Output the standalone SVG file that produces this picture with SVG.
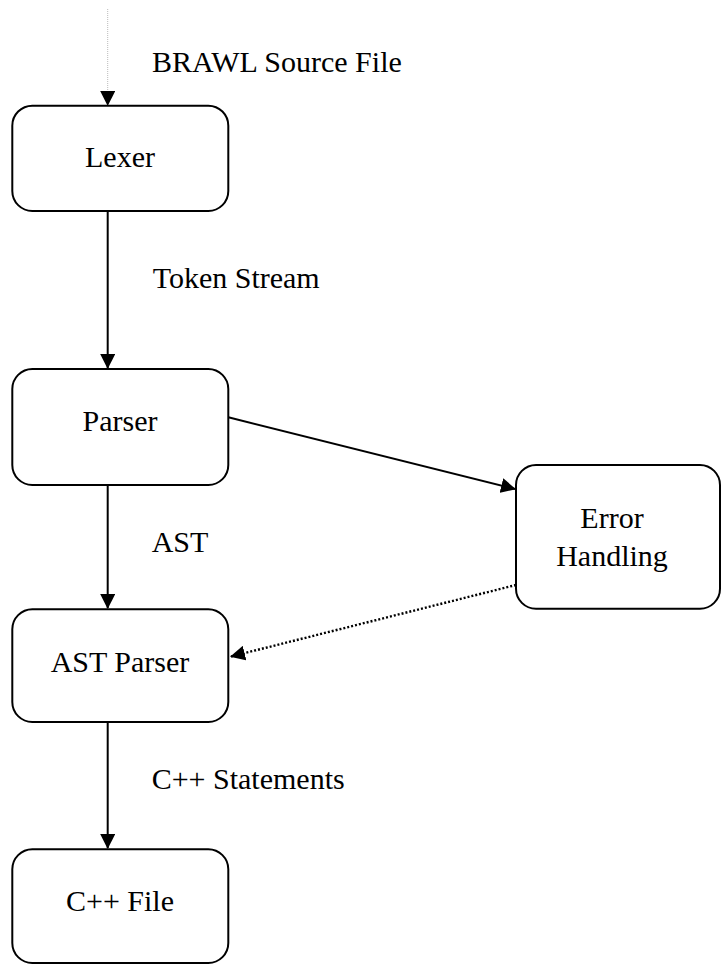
<svg xmlns="http://www.w3.org/2000/svg" width="721" height="965" viewBox="0 0 721 965">
<style>
.box{fill:#fff;stroke:#000;stroke-width:2}
.t{font-family:"Liberation Serif","Times New Roman",serif;font-size:30px;fill:#000}
.c{text-anchor:middle}
.ln{stroke:#000;stroke-width:2;fill:none}
.dot{stroke:#000;stroke-width:2.4;fill:none;stroke-dasharray:2 2}
</style>
<defs>
<marker id="arrow" viewBox="0 0 15 15" refX="14" refY="7.5" markerWidth="15" markerHeight="15" markerUnits="userSpaceOnUse" orient="auto">
<path d="M0,0 L15,7.5 L0,15 z" fill="#000"/>
</marker>
</defs>
<g id="connectors">
<line x1="107.7" y1="9" x2="107.7" y2="105" stroke="#bbb" stroke-width="1" stroke-dasharray="1 1" marker-end="url(#arrow)"/>
<line class="ln" x1="107.7" y1="211" x2="107.7" y2="368" marker-end="url(#arrow)"/>
<line class="ln" x1="107.7" y1="485" x2="107.7" y2="608" marker-end="url(#arrow)"/>
<line class="ln" x1="107.7" y1="722" x2="107.7" y2="848" marker-end="url(#arrow)"/>
<line class="ln" x1="228.3" y1="417.3" x2="515" y2="489" marker-end="url(#arrow)"/>
<line class="dot" x1="516" y1="585" x2="231" y2="656.5" marker-end="url(#arrow)"/>
<text class="t" x="152" y="72.3">BRAWL Source File</text>
<text class="t" x="152.7" y="288.3">Token Stream</text>
<text class="t" x="151.7" y="551.7">AST</text>
<text class="t" x="151.7" y="789.3">C++ Statements</text>
</g>
<g id="lexer">
<rect class="box" x="12.3" y="105.7" width="216" height="105.3" rx="20" ry="20"/>
<text class="t c" x="120" y="166.7">Lexer</text>
</g>
<g id="parser">
<rect class="box" x="12.3" y="369" width="216" height="116" rx="20" ry="20"/>
<text class="t c" x="120" y="431">Parser</text>
</g>
<g id="error-handling">
<rect class="box" x="516" y="465" width="204" height="143.7" rx="20" ry="20"/>
<text class="t c" x="612" y="528.3">Error</text>
<text class="t c" x="612" y="566">Handling</text>
</g>
<g id="ast-parser">
<rect class="box" x="12.3" y="609.3" width="216" height="112.7" rx="20" ry="20"/>
<text class="t c" x="120" y="671.7">AST Parser</text>
</g>
<g id="cpp-file">
<rect class="box" x="12.3" y="849.3" width="216" height="113.7" rx="20" ry="20"/>
<text class="t c" x="120" y="911">C++ File</text>
</g>
</svg>
